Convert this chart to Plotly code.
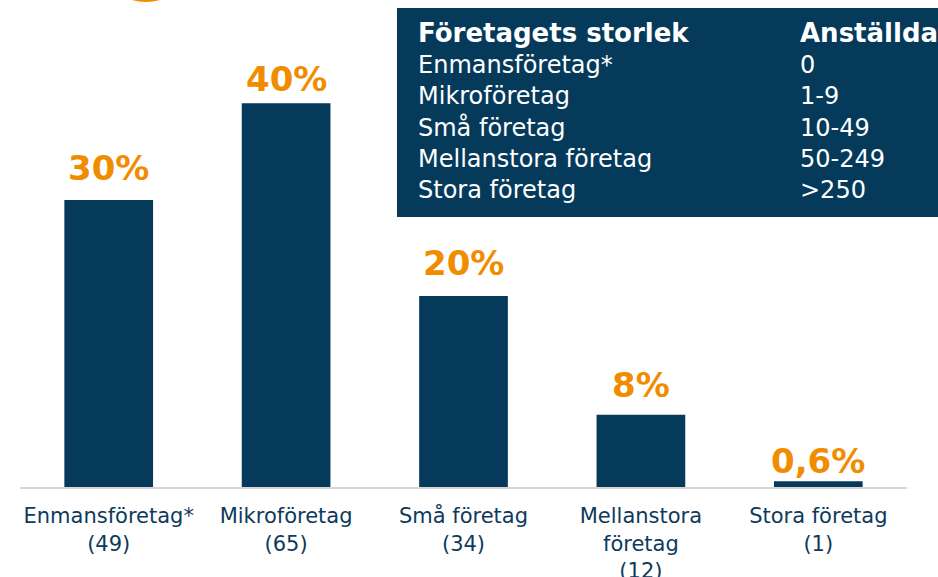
import plotly.graph_objects as go

categories = ["Enmansföretag*<br>(49)", "Mikroföretag<br>(65)", "Små företag<br>(34)",
              "Mellanstora<br>företag<br>(12)", "Stora företag<br>(1)"]
shares = [30.2, 40.4, 20.1, 7.6, 0.6]
share_labels = ["30%", "40%", "20%", "8%", "0,6%"]

table_header = ["Företagets storlek", "Anställda"]
size_names = ["Enmansföretag*", "Mikroföretag", "Små företag", "Mellanstora företag", "Stora företag"]
employee_ranges = ["0", "1-9", "10-49", "50-249", ">250"]

NAVY = "#053A5B"
ORANGE = "#F08C00"
FONT = "DejaVu Sans, Verdana, sans-serif"

fig = go.Figure(go.Bar(
    x=categories, y=shares,
    marker=dict(color=NAVY, line=dict(width=0)),
    hoverinfo="skip",
))

W, H = 938, 577
ml, mr, mt, mb = 20, 31, 0, 90
pw, ph = W - ml - mr, H - mt - mb

def px_x(p):
    return (p - ml) / pw

def px_y(p):
    return (H - mb - p) / ph

shapes = [
    dict(type="rect", xref="paper", yref="paper",
         x0=px_x(397), x1=px_x(945), y0=px_y(217), y1=px_y(8),
         fillcolor=NAVY, line=dict(width=0), layer="above"),
    dict(type="circle", xref="paper", yref="paper",
         x0=px_x(96), x1=px_x(196), y0=px_y(2), y1=px_y(-98),
         fillcolor=ORANGE, line=dict(width=0)),
]

left_col = ("<b><span style='font-size:26px'>" + table_header[0] + "</span></b><br>"
            + "<br>".join(size_names))
right_col = ("<b><span style='font-size:26px'>" + table_header[1] + "</span></b><br>"
             + "<br>".join(employee_ranges))
annotations = [
    dict(xref="paper", yref="paper", x=px_x(416), y=px_y(16), xanchor="left", yanchor="top",
         text=left_col, showarrow=False, align="left",
         font=dict(family=FONT, size=24, color="white")),
    dict(xref="paper", yref="paper", x=px_x(798), y=px_y(16), xanchor="left", yanchor="top",
         text=right_col, showarrow=False, align="left",
         font=dict(family=FONT, size=24, color="white")),
]

# value labels above bars (gap in px between label baseline and bar top)
label_gaps = [20, 12, 21, 18, 8]
for cat, val, lab, gap in zip(categories, shares, share_labels, label_gaps):
    annotations.append(dict(
        x=cat, y=val, xref="x", yref="y", text="<b>" + lab + "</b>",
        showarrow=False, yanchor="bottom", xanchor="center", yshift=gap - 10,
        font=dict(family=FONT, size=34, color=ORANGE),
    ))

fig.update_layout(
    width=W, height=H,
    margin=dict(l=ml, r=mr, t=mt, b=mb, autoexpand=False),
    paper_bgcolor="white", plot_bgcolor="white",
    bargap=0.5, showlegend=False,
    shapes=shapes, annotations=annotations,
    xaxis=dict(showline=True, linecolor="#D6D6D6", linewidth=2, showgrid=False,
               ticks="", ticklabelstandoff=9,
               tickfont=dict(family=FONT, size=21, color="#0E3A5C"),
               fixedrange=True),
    yaxis=dict(range=[0, ph / 9.5], visible=False, showgrid=False, zeroline=False,
               fixedrange=True),
)

fig.write_html("out.html", config={"displayModeBar": False},
               post_script="document.body.style.margin='0';document.body.style.overflow='hidden';")
